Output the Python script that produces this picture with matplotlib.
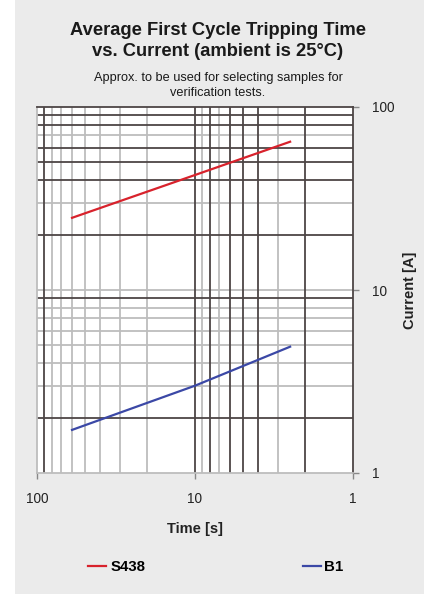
import matplotlib.pyplot as plt
from matplotlib.patches import Rectangle
from matplotlib.lines import Line2D

plt.rcParams['font.family'] = ['Liberation Sans', 'DejaVu Sans']

# ---- data ----
time_s = [60, 10, 2.5]
s438_current = [24.8, 42.5, 64.6]
b1_current = [1.72, 3.0, 4.9]

x_ticks = [100, 10, 1]
y_ticks = [1, 10, 100]

# grid values, split by how dark the lines are drawn
x_grid_dark = [90, 10, 8, 6, 5, 4, 2]
x_grid_light = [80, 70, 60, 50, 40, 30, 20, 9, 7, 3]
y_grid_dark = [90, 80, 60, 50, 40, 20, 9, 2]
y_grid_light = [70, 30, 10, 8, 7, 6, 5, 4, 3]

RED = "#d8222c"
BLUE = "#3b48a6"
DARK = "#4d4545"
LIGHT = "#bdbdbd"
PANEL = "#ebebeb"

fig = plt.figure(figsize=(4.35, 5.94), dpi=100, facecolor="white")
fig.patches.append(Rectangle((15 / 435, 0), 409 / 435, 1, transform=fig.transFigure,
                             facecolor=PANEL, edgecolor="none", zorder=-10))

ax = fig.add_axes([37 / 435, 1 - 473 / 594, 316 / 435, 366 / 594])
ax.set_facecolor("white")
ax.set_xscale("log")
ax.set_yscale("log")
ax.set_xlim(100, 1)
ax.set_ylim(1, 100)

for v in x_grid_light:
    ax.axvline(v, color=LIGHT, lw=1.3, zorder=1)
for v in y_grid_light:
    ax.axhline(v, color=LIGHT, lw=1.3, zorder=1)
for v in x_grid_dark:
    ax.axvline(v, color=DARK, lw=1.3, zorder=2)
for v in y_grid_dark:
    ax.axhline(v, color=DARK, lw=1.3, zorder=2)

ax.spines["top"].set_color(DARK)
ax.spines["right"].set_color(DARK)
ax.spines["left"].set_color(LIGHT)
ax.spines["bottom"].set_color(LIGHT)
for s in ax.spines.values():
    s.set_linewidth(1.3)

ax.plot(time_s, s438_current, color=RED, lw=1.6, zorder=3)
ax.plot(time_s, b1_current, color=BLUE, lw=1.6, zorder=3)

ax.yaxis.tick_right()
ax.yaxis.set_label_position("right")
ax.set_xticks(x_ticks)
ax.set_xticklabels([str(t) for t in x_ticks])
ax.set_yticks(y_ticks)
ax.set_yticklabels([str(t) for t in y_ticks])
ax.minorticks_off()
ax.tick_params(axis="both", length=4, width=1, color="#888888", labelsize=9.8, colors="#222222")
ax.tick_params(axis="x", pad=10)
ax.tick_params(axis="y", pad=10)

ax.set_xlabel("Time [s]", fontsize=10.5, fontweight="bold", labelpad=11, color="#222222")
ax.set_ylabel("Current [A]", fontsize=10.5, fontweight="bold", labelpad=6, color="#222222")

fig.text(218 / 435, 1 - 41 / 594, "Average First Cycle Tripping Time\nvs. Current (ambient is 25°C)",
         ha="center", va="center", fontsize=13.2, fontweight="bold", linespacing=1.3, color="#1a1a1a")
fig.text(218 / 435, 1 - 85.5 / 594, "Approx. to be used for selecting samples for\nverification tests.",
         ha="center", va="center", fontsize=9.2, linespacing=1.3, color="#1a1a1a")

handles = [Line2D([], [], color=RED, lw=1.6), Line2D([], [], color=BLUE, lw=1.6)]
leg = fig.legend(handles, ["S438", "B1"], loc="center", bbox_to_anchor=(216 / 435, 1 - 567 / 594),
                 ncol=2, frameon=False, handlelength=1.2, handletextpad=0.25, columnspacing=10.5,
                 prop={"size": 10.8, "weight": "bold"})

fig.savefig("out.png", dpi=100, facecolor=fig.get_facecolor())
